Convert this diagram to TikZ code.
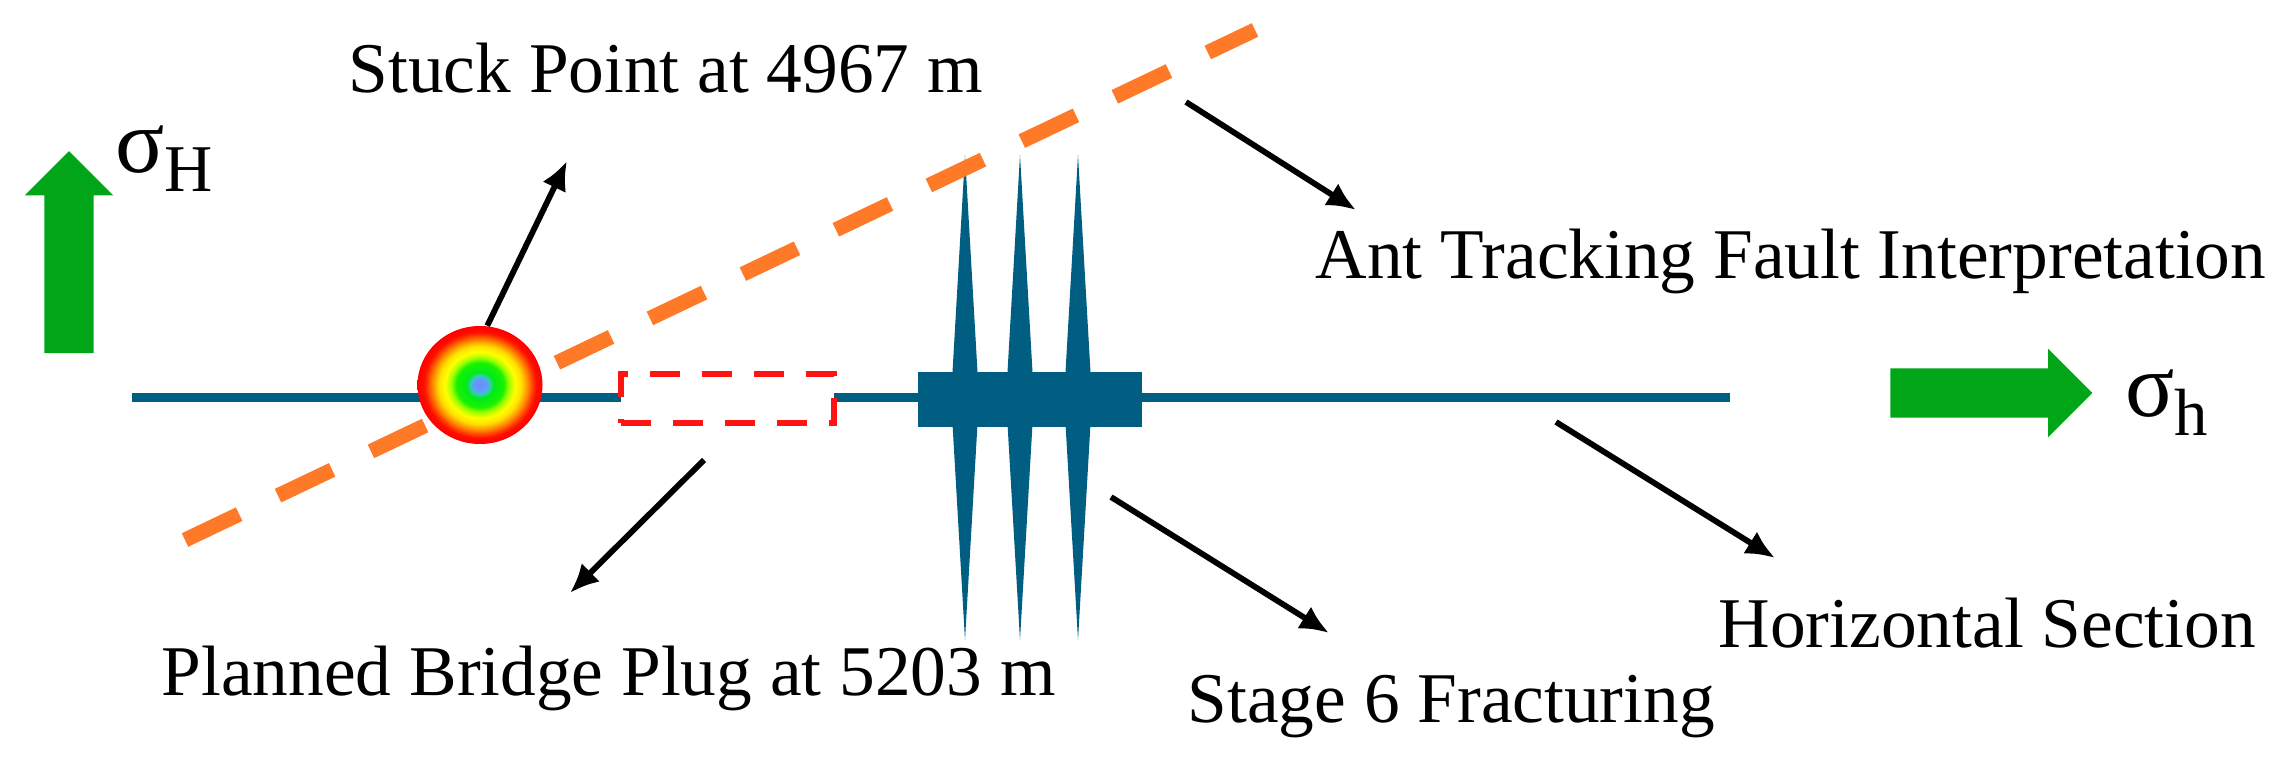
\documentclass[tikz,border=0pt]{standalone}
\usepackage{fontspec}
\setmainfont{Liberation Serif}
\usetikzlibrary{positioning,arrows.meta,shapes.arrows,shapes.geometric}

\definecolor{wellblue}{RGB}{0,94,130}
\definecolor{faultorange}{RGB}{255,122,40}
\definecolor{stressgreen}{RGB}{0,166,24}
\definecolor{plugred}{RGB}{255,20,20}

\pgfdeclareradialshading{hotspot}{\pgfpoint{0bp}{0bp}}{%
    rgb(0bp)=(0.4,0.55,1); rgb(2.5bp)=(0.4,0.6,1); rgb(4bp)=(0.2,0.8,0.7);
    rgb(5.5bp)=(0,0.92,0.1); rgb(9.5bp)=(0.1,0.95,0); rgb(11.5bp)=(0.6,1,0);
    rgb(14bp)=(1,1,0); rgb(16.5bp)=(1,0.88,0); rgb(19bp)=(1,0.55,0);
    rgb(21bp)=(1,0.25,0); rgb(22.5bp)=(1,0.05,0); rgb(25bp)=(1,0,0);
    rgb(50bp)=(1,0,0)}

\newcommand{\stresslabel}[1]{{\fontsize{26}{28}\selectfont σ}\raisebox{-0.19cm}{\fontsize{19}{20}\selectfont #1}}

\begin{document}
\begin{tikzpicture}[
    font=\fontsize{20.3}{24}\selectfont,
    label/.style={anchor=base west, inner sep=0pt},
    pointer/.style={-{Latex[length=0.29cm,width=0.26cm]}, line width=0.058cm, draw=black},
    stressarrow/.style={
        single arrow,
        fill=stressgreen,
        draw=none,
        inner xsep=0pt,
        inner ysep=0.24cm,
        minimum height=2.02cm,
        single arrow head extend=0.195cm
    },
    fault/.style={draw=faultorange, line width=0.15cm, dash pattern=on 0.6cm off 0.43cm},
    plugbox/.style={
        draw=plugred,
        fill=white,
        line width=0.06cm,
        dash pattern=on 0.3cm off 0.22cm,
        inner sep=0pt,
        minimum width=2.13cm,
        minimum height=0.49cm
    },
    fracbox/.style={fill=wellblue, inner sep=0pt, minimum width=2.24cm, minimum height=0.55cm}
]

\useasboundingbox (0,0) rectangle (22.83,7.56);

\coordinate (heel) at (1.32,3.58);
\coordinate (toe) at (17.30,3.58);
\draw[wellblue, line width=0.09cm] (heel) -- (toe);

\node[fracbox] (stage) at (10.30,3.565) {};
\foreach \x in {9.65,10.20,10.78}
    \fill[wellblue] (\x,6.01) -- (\x+0.14,3.58) -- (\x,1.16) -- (\x-0.14,3.58) -- cycle;

\node[plugbox] (plug) at (7.275,3.575) {};

\coordinate (faultstart) at (1.85,2.16);
\coordinate (faultend) at (12.55,7.26);
\draw[fault] (faultstart) -- (faultend);

\node[ellipse, shading=hotspot, inner sep=0pt, minimum width=1.25cm, minimum height=1.18cm] (stuck) at (4.80,3.71) {};

\node[stressarrow, rotate=90] (sigmaH) at (0.69,4.915) {};
\node[stressarrow] (sigmah) at (19.79,3.63) {};
\node[label] (sigmaHlabel) at (1.15,5.83) {\stresslabel{H}};
\node[label] (sigmahlabel) at (21.25,3.39) {\stresslabel{h}};

\node[label] (stucklabel) at (3.48,6.63) {Stuck Point at 4967 m};
\node[label] (antlabel) at (13.15,4.77) {Ant Tracking Fault Interpretation};
\node[label] (pluglabel) at (1.61,0.61) {Planned Bridge Plug at 5203 m};
\node[label] (stagelabel) at (11.87,0.34) {Stage 6 Fracturing};
\node[label] (sectionlabel) at (17.18,1.08) {Horizontal Section};

\coordinate (stucktip) at (5.67,5.95);
\coordinate (plugtail) at (7.04,2.96);
\coordinate (plugtip) at (5.70,1.63);
\coordinate (stagetail) at (11.11,2.59);
\coordinate (stagetip) at (13.29,1.23);
\coordinate (sectiontail) at (15.56,3.34);
\coordinate (sectiontip) at (17.75,1.98);
\coordinate (anttail) at (11.86,6.54);
\coordinate (anttip) at (13.56,5.46);

\draw[pointer] (stuck.83) -- (stucktip);
\draw[pointer] (plugtail) -- (plugtip);
\draw[pointer] (stagetail) -- (stagetip);
\draw[pointer] (sectiontail) -- (sectiontip);
\draw[pointer] (anttail) -- (anttip);

\end{tikzpicture}
\end{document}
